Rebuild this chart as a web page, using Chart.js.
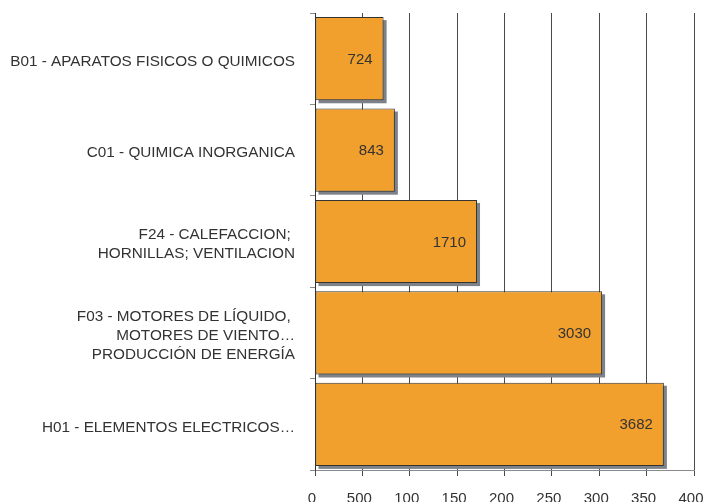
<!DOCTYPE html>
<html>
<head>
<meta charset="utf-8">
<script src="https://cdn.jsdelivr.net/npm/chart.js@4/dist/chart.umd.min.js"></script>
<style>
html,body{margin:0;padding:0;background:#fff;}
#wrap{width:704px;height:502px;position:relative;}
</style>
</head>
<body>
<div id="wrap"><canvas id="c" width="704" height="502"></canvas></div>
<script>
const categories = [
  'B01 - APARATOS FISICOS O QUIMICOS',
  'C01 - QUIMICA INORGANICA',
  ['F24 - CALEFACCION; ', 'HORNILLAS; VENTILACION'],
  ['F03 - MOTORES DE LÍQUIDO, ', 'MOTORES DE VIENTO…', 'PRODUCCIÓN DE ENERGÍA'],
  'H01 - ELEMENTOS ELECTRICOS…'
];
const values = [724, 843, 1710, 3030, 3682];
const xTickLabels = ['0', '500', '100', '150', '200', '250', '300', '350', '400'];

const FONT = "'Liberation Sans', Arial, sans-serif";
const TEXT = '#333333';

const shadowPlugin = {
  id: 'barShadow',
  beforeDatasetsDraw(chart) {
    const ctx = chart.ctx;
    const meta = chart.getDatasetMeta(0);
    ctx.save();
    ctx.fillStyle = '#7d8288';
    meta.data.forEach(bar => {
      const p = bar.getProps(['x', 'y', 'base', 'height'], true);
      const left = Math.min(p.base, p.x);
      const w = Math.abs(p.x - p.base);
      ctx.fillRect(left + 3, p.y - p.height / 2 + 3, w, p.height);
    });
    ctx.restore();
  }
};

const labelPlugin = {
  id: 'barLabels',
  afterDatasetsDraw(chart) {
    const ctx = chart.ctx;
    const meta = chart.getDatasetMeta(0);
    ctx.save();
    ctx.font = '15px ' + FONT;
    ctx.fillStyle = TEXT;
    ctx.textAlign = 'right';
    ctx.textBaseline = 'middle';
    meta.data.forEach((bar, i) => {
      const p = bar.getProps(['x', 'y'], true);
      ctx.fillText(String(values[i]), p.x - 11, p.y + 1);
    });
    ctx.restore();
  }
};

new Chart(document.getElementById('c'), {
  type: 'bar',
  data: {
    labels: categories,
    datasets: [{
      data: values,
      backgroundColor: '#f2a02d',
      borderColor: '#333333',
      borderWidth: 1,
      borderSkipped: false,
      barPercentage: 0.91,
      categoryPercentage: 1.0
    }]
  },
  options: {
    indexAxis: 'y',
    responsive: false,
    animation: false,
    devicePixelRatio: 1,
    layout: { padding: { left: 0, top: 13, right: 10, bottom: 0 } },
    plugins: { legend: { display: false }, tooltip: { enabled: false } },
    scales: {
      x: {
        min: 0,
        max: 4000,
        afterFit(scale) { scale.height = 32; scale.paddingRight = 0; scale.paddingLeft = 0; scale.paddingTop = 0; scale.paddingBottom = 0; },
        ticks: {
          stepSize: 500,
          autoSkip: false,
          maxRotation: 0,
          padding: 14,
          labelOffset: -3,
          color: TEXT,
          font: { family: FONT, size: 15 },
          callback: (v, i) => xTickLabels[i]
        },
        grid: { color: '#4a4a4a', lineWidth: 1, tickLength: 6, drawOnChartArea: true },
        border: { display: true, color: '#8a8a8a', width: 1 }
      },
      y: {
        offset: true,
        afterFit(scale) { scale.width = 315; scale.paddingTop = 0; scale.paddingBottom = 0; scale.paddingLeft = 0; scale.paddingRight = 0; },
        ticks: {
          padding: 15,
          labelOffset: 3,
          color: TEXT,
          font: { family: FONT, size: 15.3, lineHeight: 1.22 }
        },
        grid: { offset: true, drawOnChartArea: false, tickLength: 5, color: '#8a8a8a' },
        border: { display: true, color: '#333333', width: 1 }
      }
    }
  },
  plugins: [shadowPlugin, labelPlugin]
});
</script>
</body>
</html>
